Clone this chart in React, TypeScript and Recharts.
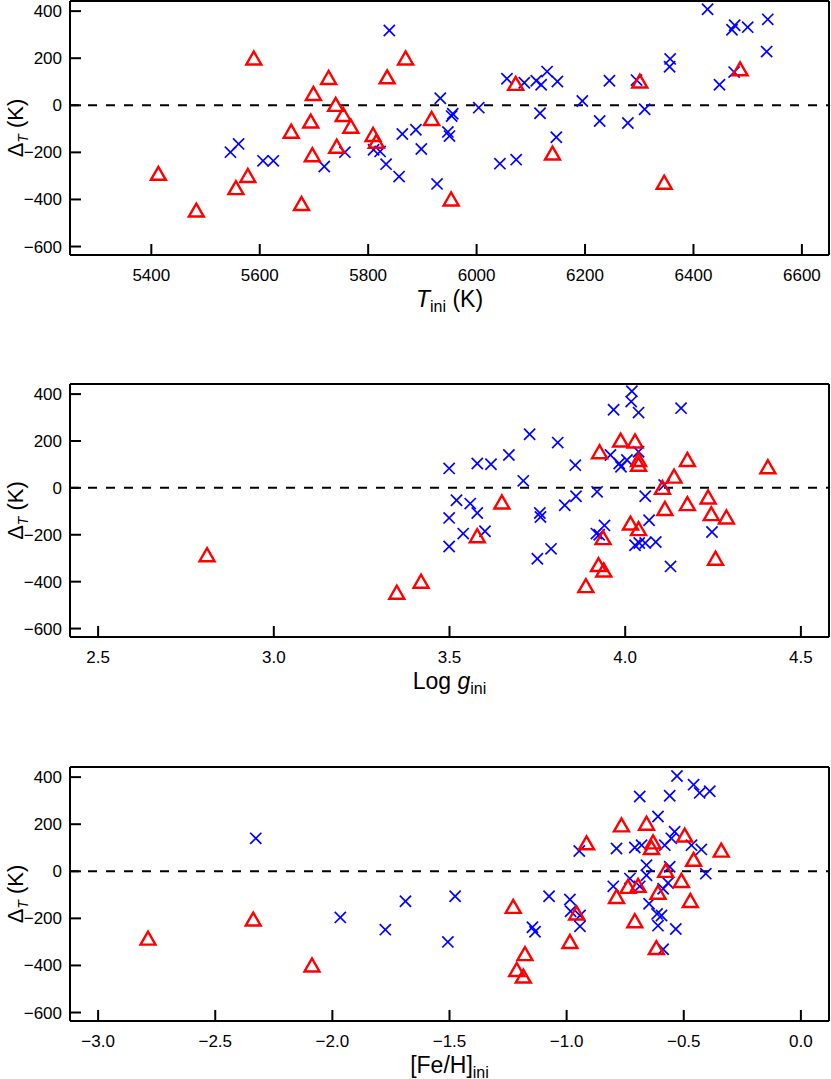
import { ScatterChart, Scatter, XAxis, YAxis, ReferenceLine } from "recharts";

// ---- panel 1: T_ini ----
const teffTriangles = [
  { x: 5413, d: -289 }, { x: 5483, d: -445 }, { x: 5589, d: 201 }, { x: 5556, d: -350 },
  { x: 5578, d: -298 }, { x: 5658, d: -110 }, { x: 5677, d: -417 }, { x: 5694, d: -67 },
  { x: 5697, d: -210 }, { x: 5699, d: 50 }, { x: 5727, d: 118 }, { x: 5740, d: 4 },
  { x: 5742, d: -174 }, { x: 5754, d: -39 }, { x: 5768, d: -89 }, { x: 5809, d: -124 },
  { x: 5815, d: -153 }, { x: 5835, d: 121 }, { x: 5869, d: 201 }, { x: 5917, d: -56 },
  { x: 5953, d: -398 }, { x: 6072, d: 93 }, { x: 6140, d: -203 }, { x: 6301, d: 103 },
  { x: 6346, d: -327 }, { x: 6486, d: 155 },
];
const teffCrosses = [
  { x: 5546, d: -199 }, { x: 5561, d: -164 }, { x: 5606, d: -236 }, { x: 5625, d: -236 },
  { x: 5719, d: -260 }, { x: 5757, d: -199 }, { x: 5839, d: 318 }, { x: 5810, d: -189 },
  { x: 5822, d: -196 }, { x: 5833, d: -250 }, { x: 5857, d: -303 }, { x: 5863, d: -122 },
  { x: 5888, d: -104 }, { x: 5898, d: -186 }, { x: 5927, d: -334 }, { x: 5933, d: 30 },
  { x: 5947, d: -113 }, { x: 5950, d: -131 }, { x: 5954, d: -46 }, { x: 5956, d: -36 },
  { x: 6004, d: -10 }, { x: 6043, d: -248 }, { x: 6056, d: 113 }, { x: 6073, d: -231 },
  { x: 6088, d: 96 }, { x: 6110, d: 104 }, { x: 6119, d: 87 }, { x: 6130, d: 143 },
  { x: 6149, d: 101 }, { x: 6117, d: -34 }, { x: 6147, d: -136 }, { x: 6195, d: 18 },
  { x: 6227, d: -67 }, { x: 6245, d: 104 }, { x: 6279, d: -75 }, { x: 6295, d: 107 },
  { x: 6310, d: -17 }, { x: 6357, d: 197 }, { x: 6356, d: 164 }, { x: 6426, d: 408 },
  { x: 6448, d: 87 }, { x: 6471, d: 321 }, { x: 6476, d: 340 }, { x: 6500, d: 332 },
  { x: 6475, d: 141 }, { x: 6537, d: 365 }, { x: 6535, d: 228 },
];
const teffMajor = [5400, 5600, 5800, 6000, 6200, 6400, 6600];

// ---- panel 2: log g_ini ----
const loggTriangles = [
  { x: 2.81, d: -285 }, { x: 3.35, d: -445 }, { x: 3.419, d: -398 }, { x: 3.579, d: -204 },
  { x: 3.649, d: -60 }, { x: 3.888, d: -417 }, { x: 3.927, d: 154 }, { x: 3.924, d: -327 },
  { x: 3.939, d: -350 }, { x: 3.937, d: -212 }, { x: 3.987, d: 204 }, { x: 4.028, d: 200 },
  { x: 4.038, d: 121 }, { x: 4.038, d: 101 }, { x: 4.015, d: -150 }, { x: 4.038, d: -174 },
  { x: 4.106, d: 2 }, { x: 4.113, d: -88 }, { x: 4.139, d: 50 }, { x: 4.177, d: 121 },
  { x: 4.177, d: -67 }, { x: 4.236, d: -39 }, { x: 4.245, d: -110 }, { x: 4.288, d: -124 },
  { x: 4.257, d: -300 }, { x: 4.406, d: 90 },
];
const loggCrosses = [
  { x: 3.499, d: 83 }, { x: 3.499, d: -128 }, { x: 3.499, d: -250 }, { x: 3.52, d: -53 },
  { x: 3.539, d: -195 }, { x: 3.559, d: -67 }, { x: 3.579, d: 104 }, { x: 3.579, d: -107 },
  { x: 3.601, d: -185 }, { x: 3.618, d: 101 }, { x: 3.669, d: 140 }, { x: 3.71, d: 30 },
  { x: 3.728, d: 229 }, { x: 3.75, d: -302 }, { x: 3.757, d: -107 }, { x: 3.759, d: -124 },
  { x: 3.789, d: -260 }, { x: 3.808, d: 193 }, { x: 3.828, d: -74 }, { x: 3.86, d: -36 },
  { x: 3.858, d: 97 }, { x: 3.92, d: -17 }, { x: 3.918, d: -195 }, { x: 3.926, d: -200 },
  { x: 3.941, d: -160 }, { x: 3.967, d: 333 }, { x: 3.958, d: 140 }, { x: 3.983, d: 104 },
  { x: 3.988, d: 90 }, { x: 4.005, d: 119 }, { x: 4.019, d: 412 }, { x: 4.017, d: 368 },
  { x: 4.038, d: 321 }, { x: 4.038, d: 154 }, { x: 4.028, d: -245 }, { x: 4.04, d: -235 },
  { x: 4.057, d: -36 }, { x: 4.068, d: -138 }, { x: 4.057, d: -235 }, { x: 4.087, d: -231 },
  { x: 4.111, d: 12 }, { x: 4.129, d: -335 }, { x: 4.159, d: 340 }, { x: 4.247, d: -188 },
];
const loggMajor = [2.5, 3.0, 3.5, 4.0, 4.5];

// ---- panel 3: [Fe/H]_ini ----
const fehTriangles = [
  { x: -2.787, d: -284 }, { x: -2.338, d: -203 }, { x: -2.087, d: -398 }, { x: -1.228, d: -149 },
  { x: -1.178, d: -350 }, { x: -1.213, d: -417 }, { x: -1.185, d: -445 }, { x: -0.986, d: -298 },
  { x: -0.957, d: -177 }, { x: -0.915, d: 121 }, { x: -0.766, d: 197 }, { x: -0.659, d: 204 },
  { x: -0.496, d: 154 }, { x: -0.631, d: 125 }, { x: -0.638, d: 101 }, { x: -0.458, d: 51 },
  { x: -0.34, d: 90 }, { x: -0.577, d: 4 }, { x: -0.51, d: -39 }, { x: -0.738, d: -64 },
  { x: -0.695, d: -60 }, { x: -0.787, d: -107 }, { x: -0.61, d: -89 }, { x: -0.472, d: -124 },
  { x: -0.709, d: -210 }, { x: -0.617, d: -324 },
];
const fehCrosses = [
  { x: -2.327, d: 140 }, { x: -1.966, d: -196 }, { x: -1.774, d: -248 }, { x: -1.688, d: -127 },
  { x: -1.476, d: -106 }, { x: -1.507, d: -300 }, { x: -1.146, d: -238 }, { x: -1.135, d: -257 },
  { x: -1.075, d: -106 }, { x: -0.986, d: -120 }, { x: -0.983, d: -170 }, { x: -0.943, d: -188 },
  { x: -0.943, d: -234 }, { x: -0.946, d: 86 }, { x: -0.529, d: 405 }, { x: -0.458, d: 368 },
  { x: -0.432, d: 333 }, { x: -0.389, d: 340 }, { x: -0.688, d: 318 }, { x: -0.56, d: 321 },
  { x: -0.61, d: 233 }, { x: -0.539, d: 168 }, { x: -0.553, d: 140 }, { x: -0.787, d: 97 },
  { x: -0.709, d: 101 }, { x: -0.68, d: 111 }, { x: -0.581, d: 111 }, { x: -0.467, d: 111 },
  { x: -0.425, d: 93 }, { x: -0.659, d: 26 }, { x: -0.659, d: -17 }, { x: -0.56, d: 19 },
  { x: -0.406, d: -10 }, { x: -0.73, d: -31 }, { x: -0.801, d: -64 }, { x: -0.688, d: -64 },
  { x: -0.567, d: -50 }, { x: -0.588, d: -74 }, { x: -0.648, d: -138 }, { x: -0.614, d: -181 },
  { x: -0.595, d: -188 }, { x: -0.61, d: -231 }, { x: -0.534, d: -245 }, { x: -0.588, d: -331 },
];
const fehMajor = [-3.0, -2.5, -2.0, -1.5, -1.0, -0.5, 0.0];

const deltaMajor = [-600, -400, -200, 0, 200, 400];
const deltaMinor = [-560, -520, -480, -440, -360, -320, -280, -240, -160, -120, -80, -40,
  40, 80, 120, 160, 240, 280, 320, 360, 440];
const deltaDomain: [number, number] = [-636, 443];

const FONT = "'Liberation Sans', Arial, Helvetica, sans-serif";

const steps = (from: number, to: number, step: number) => {
  const out: number[] = [];
  const n = Math.round((to - from) / step);
  for (let i = 0; i <= n; i++) out.push(Math.round((from + i * step) * 1000) / 1000);
  return out;
};

const isMajor = (majors: number[], v: number) => majors.some((m) => Math.abs(m - v) < 1e-6);

const fmtNum = (v: number, dec: number) => {
  const s = Math.abs(v).toFixed(dec);
  return v < 0 ? "\u2212" + s : s;
};

// tick labels; tickMargin cancels the inward tickSize, so x/y arrive at the plot edge
const makeLabel = (side: string, dec: number) => (props: any) => {
  const x = Number(props.x);
  const y = Number(props.y);
  const v = props.payload.value;
  if (side === "bottom")
    return (
      <text x={x} y={y + 26} textAnchor="middle" fontSize={17} fontFamily={FONT} fill="#000">
        {fmtNum(v, dec)}
      </text>
    );
  return (
    <text x={x - 8} y={y + 6} textAnchor="end" fontSize={17} fontFamily={FONT} fill="#000">
      {fmtNum(v, dec)}
    </text>
  );
};

const XTitle = ({ viewBox, kind }: any) => {
  const cx = viewBox.x + viewBox.width / 2;
  const y = viewBox.y + 52;
  return (
    <text x={cx} y={y} textAnchor="middle" fontSize={23} fontFamily={FONT} fill="#000">
      {kind === "teff" && (
        <>
          <tspan fontStyle="italic">T</tspan>
          <tspan fontSize={16} dy={5}>ini</tspan>
          <tspan dy={-5}> (K)</tspan>
        </>
      )}
      {kind === "logg" && (
        <>
          <tspan>Log </tspan>
          <tspan fontStyle="italic">g</tspan>
          <tspan fontSize={16} dy={5}>ini</tspan>
        </>
      )}
      {kind === "feh" && (
        <>
          <tspan>[Fe/H]</tspan>
          <tspan fontSize={16} dy={5}>ini</tspan>
        </>
      )}
    </text>
  );
};

const YTitle = ({ viewBox }: any) => {
  const cy = viewBox.y + viewBox.height / 2;
  const x = 23;
  return (
    <text x={x} y={cy} transform={`rotate(-90 ${x} ${cy})`} textAnchor="middle" fontSize={22} fontFamily={FONT} fill="#000">
      <tspan>Δ</tspan>
      <tspan fontSize={14} fontStyle="italic" dy={5}>T</tspan>
      <tspan dy={-5}> (K)</tspan>
    </text>
  );
};

const Triangle = (p: any) => {
  const { cx, cy } = p;
  const w = 7.5;
  const h = 6.5;
  return (
    <polygon
      points={`${cx - w},${cy + h} ${cx + w},${cy + h} ${cx},${cy - h}`}
      fill="none"
      stroke="#ff0000"
      strokeWidth={2.4}
    />
  );
};

const Cross = (p: any) => {
  const { cx, cy } = p;
  const r = 5.6;
  return (
    <g stroke="#0000ff" strokeWidth={1.7}>
      <line x1={cx - r} y1={cy - r} x2={cx + r} y2={cy + r} />
      <line x1={cx - r} y1={cy + r} x2={cx + r} y2={cy - r} />
    </g>
  );
};

type PanelProps = {
  top: number;
  plotHeight: number;
  domain: [number, number];
  major: number[];
  minor: number[];
  dec: number;
  kind: string;
  triangles: { x: number; d: number }[];
  crosses: { x: number; d: number }[];
};

const Panel = ({ top, plotHeight, domain, major, minor, dec, kind, triangles, crosses }: PanelProps) => {
  const mTop = 10;
  const mBottom = 72;
  const axisLine = { stroke: "#000", strokeWidth: 2 };
  const tickLine = { stroke: "#000", strokeWidth: 2 };
  const minorOnly = minor.filter((v) => !isMajor(major, v));

  // every side has a major and a minor axis of 1px each, margins are trimmed by 2
  return (
    <div style={{ position: "absolute", left: 0, top: top - mTop }}>
      <ScatterChart
        width={831}
        height={plotHeight + mTop + mBottom}
        margin={{ top: mTop - 2, right: 0, bottom: mBottom - 2, left: 68 }}
      >
        <XAxis
          xAxisId="b"
          type="number"
          dataKey="x"
          orientation="bottom"
          domain={domain}
          ticks={major}
          interval={0}
          height={1}
          tickSize={-11}
          tickMargin={11}
          axisLine={axisLine}
          tickLine={tickLine}
          tick={makeLabel("bottom", dec)}
          label={<XTitle kind={kind} />}
        />
        <XAxis
          xAxisId="b2"
          type="number"
          dataKey="x"
          orientation="bottom"
          domain={domain}
          ticks={minorOnly}
          interval={0}
          height={1}
          tickSize={-7}
          axisLine={false}
          tickLine={tickLine}
          tick={false}
        />
        <XAxis
          xAxisId="t"
          type="number"
          dataKey="x"
          orientation="top"
          domain={domain}
          ticks={major}
          interval={0}
          height={1}
          tickSize={-11}
          axisLine={axisLine}
          tickLine={tickLine}
          tick={false}
        />
        <XAxis
          xAxisId="t2"
          type="number"
          dataKey="x"
          orientation="top"
          domain={domain}
          ticks={minorOnly}
          interval={0}
          height={1}
          tickSize={-7}
          axisLine={false}
          tickLine={tickLine}
          tick={false}
        />
        <YAxis
          yAxisId="l"
          type="number"
          dataKey="d"
          orientation="left"
          domain={deltaDomain}
          ticks={deltaMajor}
          interval={0}
          width={1}
          tickSize={-11}
          tickMargin={11}
          axisLine={axisLine}
          tickLine={tickLine}
          tick={makeLabel("left", 0)}
          label={<YTitle />}
        />
        <YAxis
          yAxisId="l2"
          type="number"
          dataKey="d"
          orientation="left"
          domain={deltaDomain}
          ticks={deltaMinor}
          interval={0}
          width={1}
          tickSize={-7}
          axisLine={false}
          tickLine={tickLine}
          tick={false}
        />
        <YAxis
          yAxisId="r"
          type="number"
          dataKey="d"
          orientation="right"
          domain={deltaDomain}
          ticks={deltaMajor}
          interval={0}
          width={1}
          tickSize={-11}
          axisLine={axisLine}
          tickLine={tickLine}
          tick={false}
        />
        <YAxis
          yAxisId="r2"
          type="number"
          dataKey="d"
          orientation="right"
          domain={deltaDomain}
          ticks={deltaMinor}
          interval={0}
          width={1}
          tickSize={-7}
          axisLine={false}
          tickLine={tickLine}
          tick={false}
        />
        <ReferenceLine xAxisId="b" yAxisId="l" y={0} stroke="#000" strokeWidth={2} strokeDasharray="9 9" />
        <Scatter
          xAxisId="b"
          yAxisId="l"
          data={crosses}
          shape={(p: any) => <Cross cx={p.cx} cy={p.cy} />}
          isAnimationActive={false}
        />
        <Scatter
          xAxisId="b"
          yAxisId="l"
          data={triangles}
          shape={(p: any) => <Triangle cx={p.cx} cy={p.cy} />}
          isAnimationActive={false}
        />
      </ScatterChart>
    </div>
  );
};

const App = () => (
  <div style={{ position: "absolute", left: 0, top: 0, width: 831, height: 1079, background: "#fff" }}>
    <Panel
      top={1}
      plotHeight={254}
      domain={[5250, 6650]}
      major={teffMajor}
      minor={steps(5280, 6640, 40)}
      dec={0}
      kind="teff"
      triangles={teffTriangles}
      crosses={teffCrosses}
    />
    <Panel
      top={384}
      plotHeight={253}
      domain={[2.42, 4.58]}
      major={loggMajor}
      minor={steps(2.5, 4.5, 0.1)}
      dec={1}
      kind="logg"
      triangles={loggTriangles}
      crosses={loggCrosses}
    />
    <Panel
      top={767}
      plotHeight={254}
      domain={[-3.12, 0.12]}
      major={fehMajor}
      minor={steps(-3.1, 0.1, 0.1)}
      dec={1}
      kind="feh"
      triangles={fehTriangles}
      crosses={fehCrosses}
    />
  </div>
);

export default App;
